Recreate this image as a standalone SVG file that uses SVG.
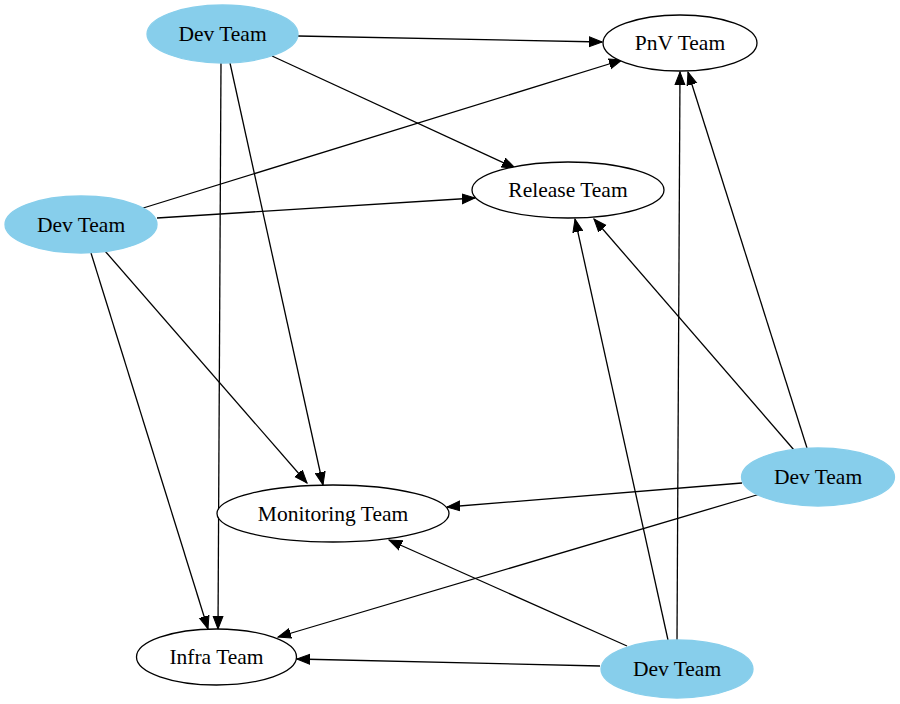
<svg xmlns="http://www.w3.org/2000/svg" width="900" height="704" viewBox="0 0 900 704">
<style>
.dev ellipse{fill:#87CEEB;stroke:#87CEEB;stroke-width:1.3}
.team ellipse{fill:#ffffff;stroke:#000000;stroke-width:1.3}
text{font-family:"Liberation Serif","Times New Roman",serif;font-size:21.5px;fill:#000;text-anchor:middle}
#edges line{stroke:#000;stroke-width:1.3;marker-end:url(#arr)}
</style>
<defs>
<marker id="arr" markerUnits="userSpaceOnUse" markerWidth="14" markerHeight="12" refX="13" refY="5" orient="auto" viewBox="0 0 14 10">
<path d="M0,0 L13,5 L0,10 z" fill="#000" stroke="#000" stroke-width="1"/>
</marker>
</defs>
<rect width="900" height="704" fill="#fff"/>
<g id="edges">
<line x1="298" y1="36" x2="602" y2="42"/>
<line x1="272" y1="56" x2="515" y2="168"/>
<line x1="230" y1="63" x2="323" y2="485"/>
<line x1="221" y1="63" x2="218" y2="629"/>
<line x1="140" y1="209" x2="622" y2="60"/>
<line x1="157" y1="218" x2="475" y2="198"/>
<line x1="105" y1="251" x2="307" y2="483"/>
<line x1="91" y1="253" x2="208" y2="629"/>
<line x1="807" y1="448" x2="688" y2="72"/>
<line x1="794" y1="450" x2="594" y2="219"/>
<line x1="742" y1="483" x2="447" y2="507"/>
<line x1="760" y1="494" x2="278" y2="637"/>
<line x1="677" y1="640" x2="680" y2="72"/>
<line x1="668" y1="640" x2="575" y2="219"/>
<line x1="627" y1="646" x2="389" y2="540"/>
<line x1="600" y1="666" x2="297" y2="659"/>
</g>
<g id="dev1" class="dev"><ellipse cx="222.5" cy="34" rx="75.5" ry="29"/><text x="222.5" y="41">Dev Team</text></g>
<g id="dev2" class="dev"><ellipse cx="81" cy="224.5" rx="76" ry="28.5"/><text x="81" y="231.5">Dev Team</text></g>
<g id="dev3" class="dev"><ellipse cx="818" cy="477" rx="76.5" ry="29"/><text x="818" y="484">Dev Team</text></g>
<g id="dev4" class="dev"><ellipse cx="677" cy="669" rx="76" ry="29"/><text x="677" y="676">Dev Team</text></g>
<g id="pnv" class="team"><ellipse cx="680" cy="43" rx="77" ry="28"/><text x="680" y="50">PnV Team</text></g>
<g id="release" class="team"><ellipse cx="568" cy="190" rx="96" ry="28"/><text x="568" y="197">Release Team</text></g>
<g id="monitoring" class="team"><ellipse cx="333" cy="513.5" rx="116" ry="28.5"/><text x="333" y="520.5">Monitoring Team</text></g>
<g id="infra" class="team"><ellipse cx="216.5" cy="657" rx="80" ry="28"/><text x="216.5" y="664">Infra Team</text></g>
</svg>
